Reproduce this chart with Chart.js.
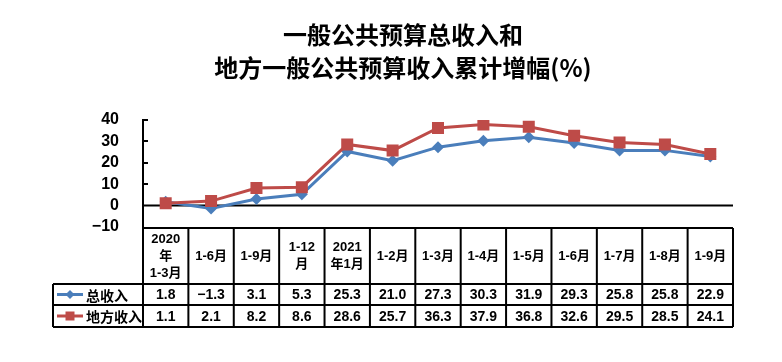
<!DOCTYPE html>
<html>
<head>
<meta charset="utf-8">
<script src="https://cdn.jsdelivr.net/npm/chart.js@4/dist/chart.umd.min.js"></script>
<style>
  body { margin: 0; background: #fff; }
  canvas { display: block; }
</style>
</head>
<body>
<canvas id="chart" width="782" height="362"></canvas>
<script>
// category labels (table header, one array per line)
const periods = [
  ['2020', '年', '1-3月'], ['1-6月'], ['1-9月'], ['1-12', '月'], ['2021', '年1月'],
  ['1-2月'], ['1-3月'], ['1-4月'], ['1-5月'], ['1-6月'], ['1-7月'], ['1-8月'], ['1-9月']
];
const totalIncome = [1.8, -1.3, 3.1, 5.3, 25.3, 21.0, 27.3, 30.3, 31.9, 29.3, 25.8, 25.8, 22.9];
const localIncome = [1.1, 2.1, 8.2, 8.6, 28.6, 25.7, 36.3, 37.9, 36.8, 32.6, 29.5, 28.5, 24.1];
const seriesNames = ['总收入', '地方收入'];
const titleLines = ['一般公共预算总收入和', '地方一般公共预算收入累计增幅(%)'];

const blue = '#4A7EBB';
const red = '#BE4B48';
const latinFont = '"Liberation Sans", Arial, "Noto Sans CJK SC", sans-serif';

const fmt = v => (v < 0 ? '−' : '') + Math.abs(v).toFixed(1);

function drawMarker(ctx, style, x, y, color) {
  ctx.fillStyle = color;
  ctx.beginPath();
  if (style === 'diamond') {
    ctx.moveTo(x, y - 4.5); ctx.lineTo(x + 4.5, y); ctx.lineTo(x, y + 4.5); ctx.lineTo(x - 4.5, y);
    ctx.closePath();
  } else {
    ctx.rect(x - 4.5, y - 4.5, 9, 9);
  }
  ctx.fill();
}

// zero line + inward ticks, then the data table under the plot
const tablePlugin = {
  id: 'tablePlugin',
  beforeDatasetsDraw(chart) {
    const { ctx, chartArea, scales } = chart;
    const y0 = scales.y.getPixelForValue(0);
    ctx.save();
    ctx.strokeStyle = '#000';
    ctx.lineWidth = 2;
    ctx.beginPath();
    ctx.moveTo(chartArea.left, y0);
    ctx.lineTo(chartArea.right, y0);
    [10, 20, 30, 40].forEach(v => {
      const yy = Math.round(scales.y.getPixelForValue(v));
      ctx.moveTo(chartArea.left, yy);
      ctx.lineTo(chartArea.left + 5, yy);
    });
    ctx.stroke();
    ctx.restore();
  },
  afterDraw(chart) {
    const { ctx, chartArea, scales } = chart;
    const x = scales.x;
    const colW = x.getPixelForValue(1) - x.getPixelForValue(0);
    const left = chartArea.left, right = chartArea.right;
    const legendLeft = 53;
    const top = 228, headBottom = 284, row1Bottom = 305, row2Bottom = 327;

    ctx.save();
    ctx.strokeStyle = '#000';
    ctx.lineWidth = 2;
    ctx.beginPath();
    // horizontal lines
    ctx.moveTo(left, top); ctx.lineTo(right, top);
    [headBottom, row1Bottom, row2Bottom].forEach(yy => {
      ctx.moveTo(legendLeft, yy); ctx.lineTo(right, yy);
    });
    // vertical lines
    ctx.moveTo(legendLeft, headBottom); ctx.lineTo(legendLeft, row2Bottom);
    for (let i = 0; i <= periods.length; i++) {
      const xx = i < periods.length ? x.getPixelForValue(i) - colW / 2 : x.getPixelForValue(i - 1) + colW / 2;
      ctx.moveTo(xx, top); ctx.lineTo(xx, row2Bottom);
    }
    ctx.stroke();

    ctx.fillStyle = '#000';
    ctx.textAlign = 'center';
    ctx.textBaseline = 'middle';
    // header labels
    ctx.font = 'bold 13px ' + latinFont;
    const lh = 17;
    periods.forEach((lines, i) => {
      const cx = x.getPixelForValue(i);
      const cy = (top + headBottom) / 2;
      lines.forEach((t, k) => {
        ctx.fillText(t, cx, cy + (k - (lines.length - 1) / 2) * lh);
      });
    });
    // values
    ctx.font = 'bold 14px ' + latinFont;
    const r1 = (headBottom + row1Bottom) / 2 + 1, r2 = (row1Bottom + row2Bottom) / 2 + 1;
    totalIncome.forEach((v, i) => ctx.fillText(fmt(v), x.getPixelForValue(i), r1));
    localIncome.forEach((v, i) => ctx.fillText(fmt(v), x.getPixelForValue(i), r2));

    // legend cells
    [[r1, blue, 'diamond', seriesNames[0]], [r2, red, 'square', seriesNames[1]]].forEach(([ry, col, st, name]) => {
      ctx.strokeStyle = col;
      ctx.lineWidth = 3;
      ctx.beginPath();
      ctx.moveTo(57, ry - 1); ctx.lineTo(83, ry - 1);
      ctx.stroke();
      drawMarker(ctx, st, 70, ry - 1, col);
      ctx.fillStyle = '#000';
      ctx.textAlign = 'left';
      ctx.font = 'bold 14px "Noto Sans CJK SC", sans-serif';
      ctx.fillText(name, 86, ry);
    });
    ctx.restore();
  }
};

new Chart(document.getElementById('chart'), {
  type: 'line',
  data: {
    labels: periods,
    datasets: [
      {
        label: seriesNames[0],
        data: totalIncome,
        borderColor: blue,
        backgroundColor: blue,
        borderWidth: 3,
        pointStyle: 'rectRot',
        pointRadius: 6,
        pointBorderWidth: 0,
        order: 1
      },
      {
        label: seriesNames[1],
        data: localIncome,
        borderColor: red,
        backgroundColor: red,
        borderWidth: 3,
        pointStyle: 'rect',
        pointRadius: 8.5,
        pointBorderWidth: 0,
        order: 0
      }
    ]
  },
  options: {
    responsive: false,
    devicePixelRatio: 1,
    animation: false,
    layout: { padding: { left: 73, right: 49, top: 0, bottom: 135 } },
    plugins: {
      legend: { display: false },
      tooltip: { enabled: false },
      title: {
        display: true,
        text: titleLines,
        color: '#000',
        font: { family: '"Noto Sans CJK SC", sans-serif', size: 24, weight: 'bold', lineHeight: 1.375 },
        padding: { top: 18, bottom: 36 }
      }
    },
    scales: {
      x: { display: false, offset: true },
      y: {
        min: -10,
        max: 40,
        afterFit: s => { s.width = 70; },
        ticks: {
          stepSize: 10,
          autoSkip: false,
          color: '#000',
          padding: 24,
          font: { family: latinFont, size: 16, weight: 'bold' },
          callback: v => (v < 0 ? '−' + Math.abs(v) : String(v))
        },
        grid: { display: false, drawTicks: false },
        border: { display: true, color: '#000', width: 2 }
      }
    }
  },
  plugins: [tablePlugin]
});
</script>
</body>
</html>
